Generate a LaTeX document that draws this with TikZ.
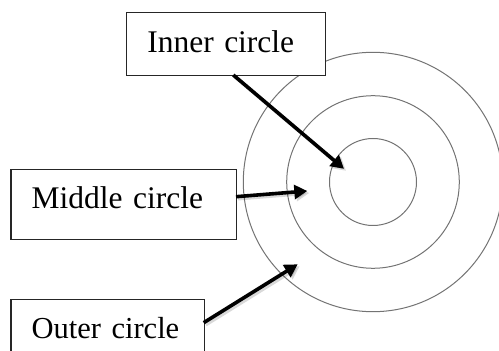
\documentclass[tikz,border=0pt]{standalone}
\usepackage{fontspec}
\setmainfont{Liberation Serif}
\usetikzlibrary{arrows.meta}
\begin{document}
\begin{tikzpicture}[x=1pt,y=1pt,
  lbl/.style={draw=black!85, line width=1.2pt, fill=white, anchor=north west, align=left,
    inner sep=0pt, font=\fontsize{31.5}{36}\selectfont},
  ring/.style={draw=black!55, line width=1pt},
  pointer/.style={line width=3.6pt, -{Triangle[length=13pt,width=14pt]}},
  pshadow/.style={line width=3.6pt, draw=black, opacity=0.15, -{Triangle[length=13pt,width=14pt]}}]
\useasboundingbox (0,0) rectangle (499,351);
% rings
\coordinate (c) at (373,169);
\draw[ring] (c) circle[radius=43.5];
\draw[ring] (c) circle[radius=86.3];
\draw[ring] (c) circle[radius=129.7];
% boxes
\node[lbl, text width=199.3pt, text height=40pt, text depth=23.3pt] (inner) at (125.7,339.3) {\hspace*{21pt}\mbox{Inner circle}};
\node[lbl, text width=225.7pt, text height=39.3pt, text depth=30.7pt] (middle) at (10.3,182) {\hspace*{20.7pt}\mbox{Middle circle}};
\node[lbl, text width=193.4pt, text height=38.7pt, text depth=31.3pt] (outer) at (10.3,51.7) {\hspace*{20.7pt}\mbox{\fontsize{30.5}{36}\selectfont Outer circle}};
% arrow ends
\coordinate (inTail) at (233.3,276);
\coordinate (inTip) at (344,182.2);
\coordinate (midTail) at (236,154.3);
\coordinate (midTip) at (307.3,160);
\coordinate (outTail) at (203.7,28.3);
\coordinate (outTip) at (297.7,86.7);
% shadows
\draw[pshadow] ([shift={(2,-2)}]inTail) -- ([shift={(2,-2)}]inTip);
\draw[pshadow] ([shift={(2,-2)}]midTail) -- ([shift={(2,-2)}]midTip);
\draw[pshadow] ([shift={(2,-2)}]outTail) -- ([shift={(2,-2)}]outTip);
% arrows
\draw[pointer] (inTail) -- (inTip);
\draw[pointer] (midTail) -- (midTip);
\draw[pointer] (outTail) -- (outTip);
\end{tikzpicture}
\end{document}
